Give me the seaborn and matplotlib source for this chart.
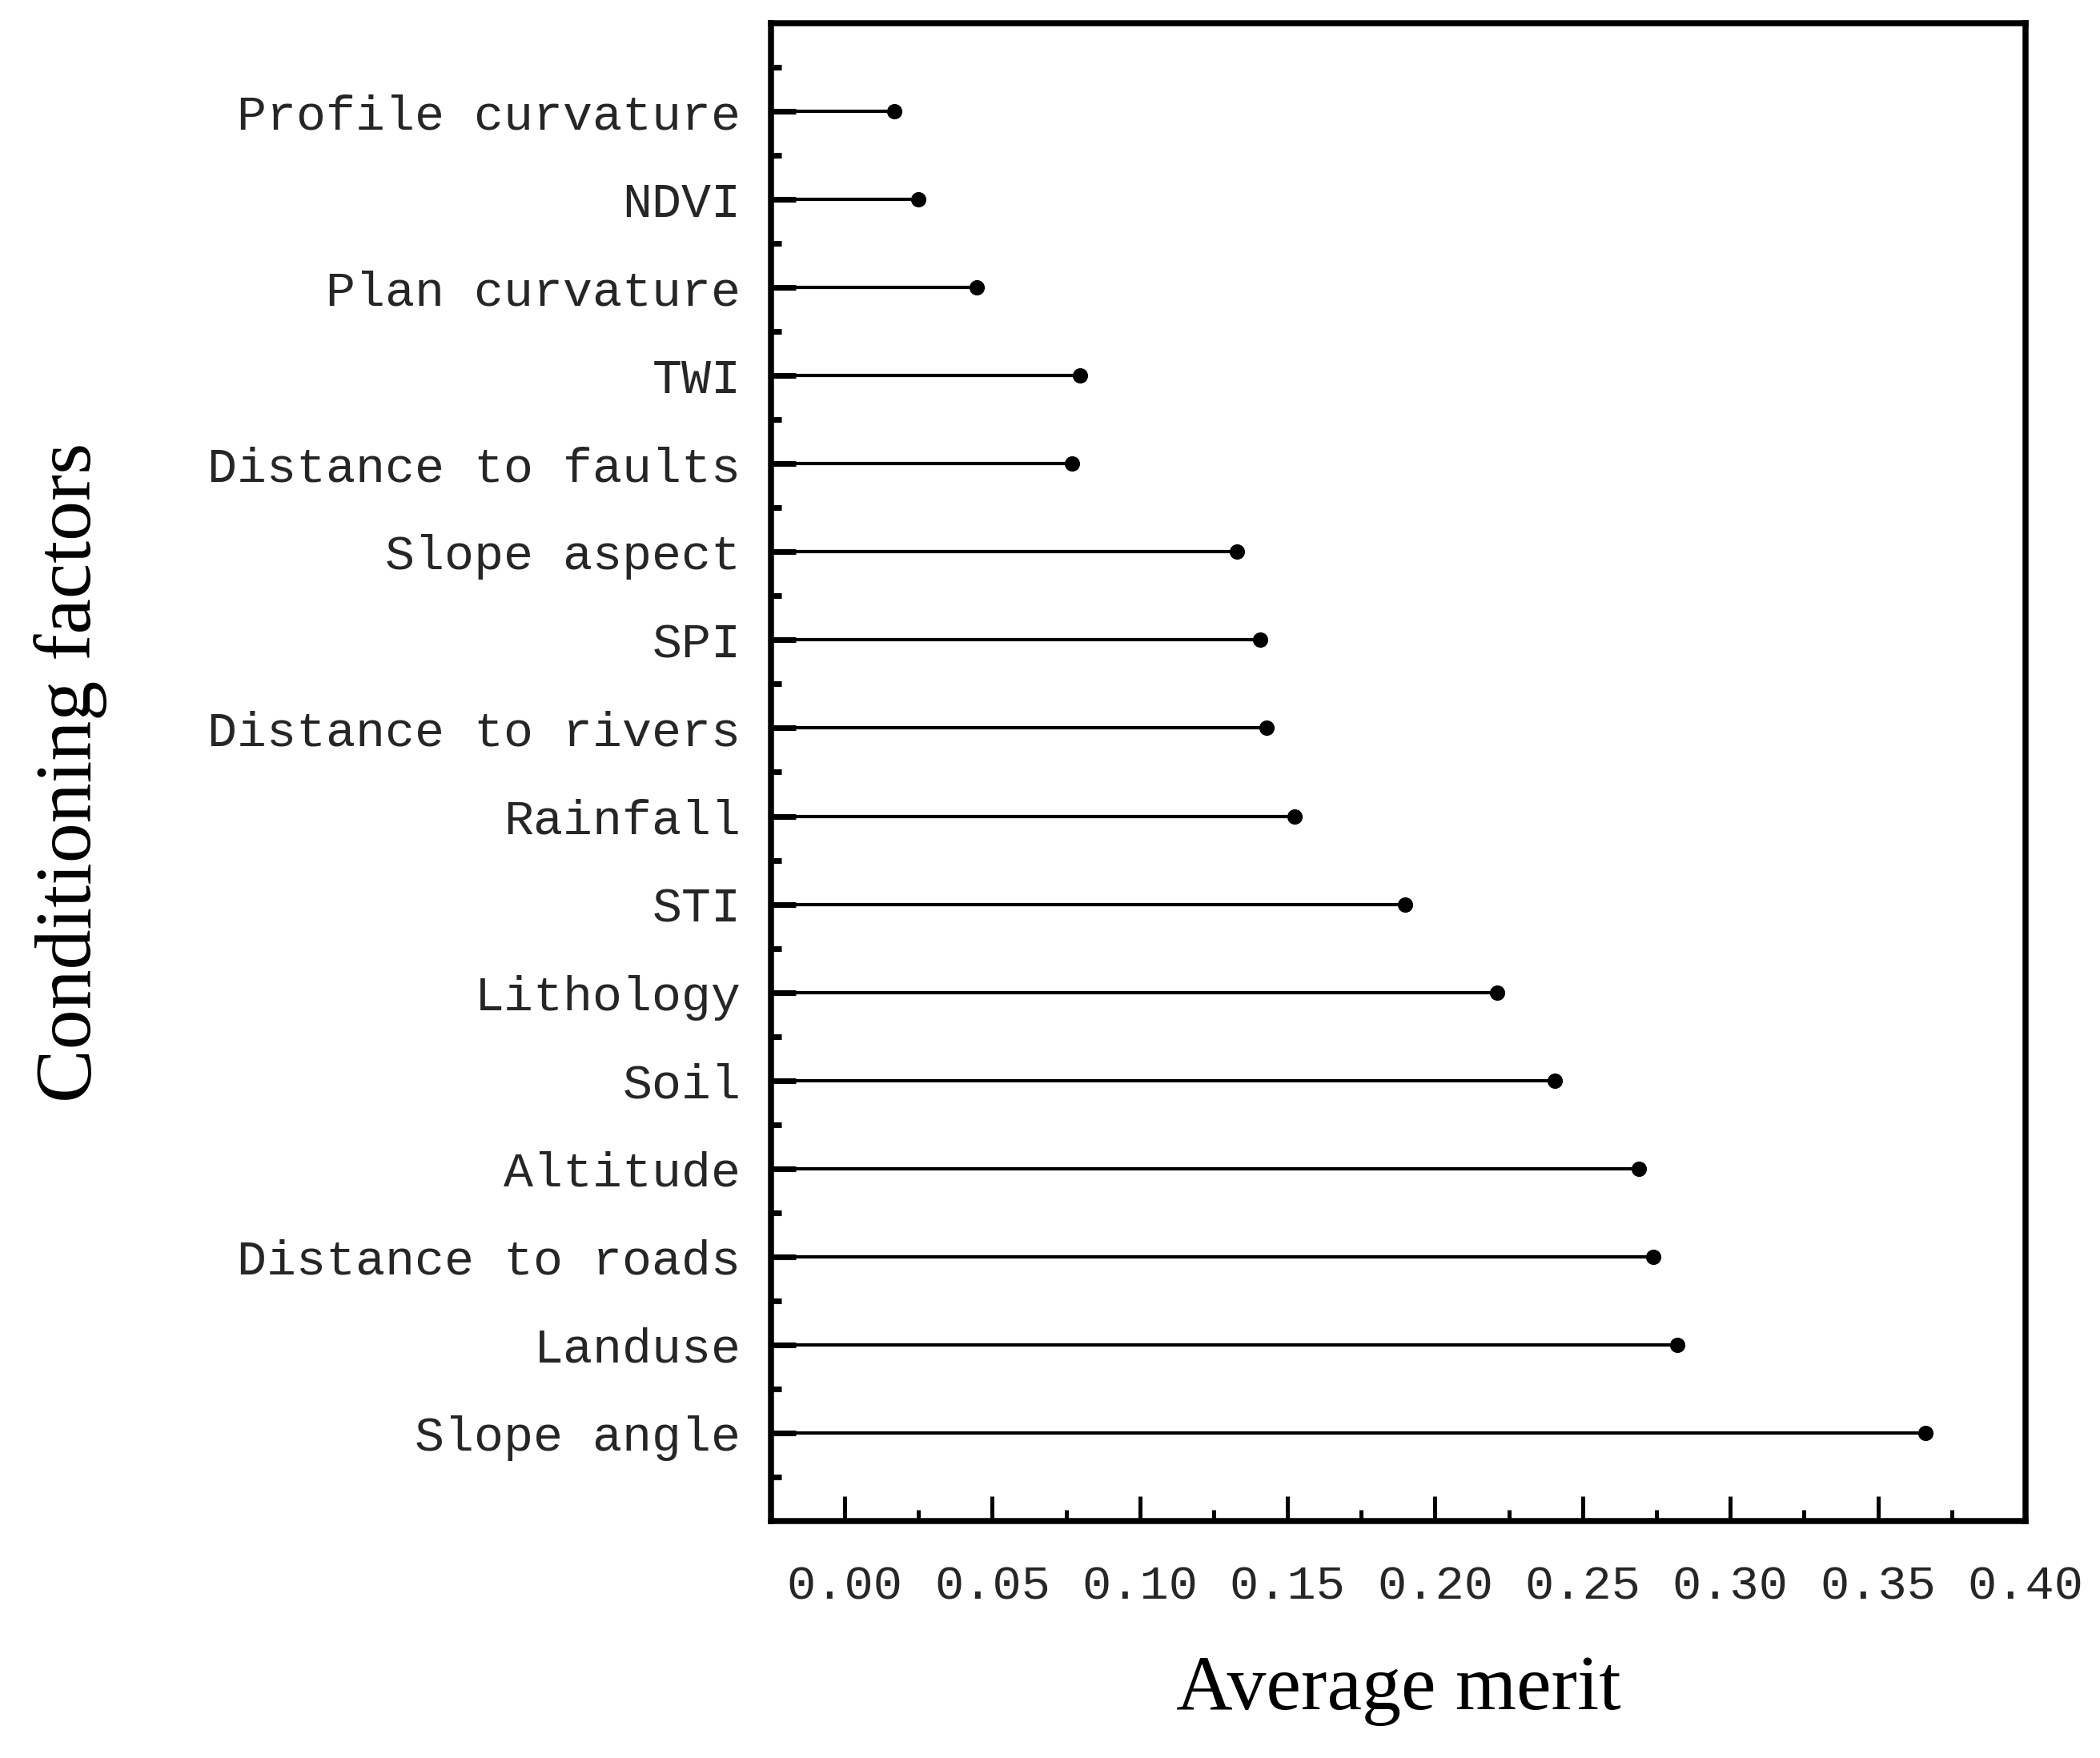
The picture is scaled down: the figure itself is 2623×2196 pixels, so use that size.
import numpy as np
import pandas as pd
import matplotlib
matplotlib.use("Agg")
import matplotlib.pyplot as plt
from matplotlib.ticker import MultipleLocator, FormatStrFormatter
import seaborn as sns

sns.set_theme(style="white")
plt.rcParams['font.family'] = ['Liberation Mono', 'DejaVu Sans Mono']

# factors from top to bottom and their average merit
factors = ["Profile curvature", "NDVI", "Plan curvature", "TWI",
           "Distance to faults", "Slope aspect", "SPI", "Distance to rivers",
           "Rainfall", "STI", "Lithology", "Soil", "Altitude",
           "Distance to roads", "Landuse", "Slope angle"]
merit = [0.0168, 0.0248, 0.0448, 0.0798, 0.0769, 0.1329, 0.1408, 0.1428,
         0.1524, 0.1899, 0.2209, 0.2405, 0.2689, 0.2740, 0.2820, 0.3661]

df = pd.DataFrame({"factor": factors, "merit": merit})

x_min, x_max = -0.025, 0.40

fig, ax = plt.subplots(figsize=(2623 / 300, 2196 / 300), dpi=300)
fig.subplots_adjust(left=0.3671, right=0.9645, top=0.9868, bottom=0.1348)

sns.stripplot(data=df, x="merit", y="factor", order=factors, jitter=False,
              color="black", size=4.6, linewidth=0, ax=ax, zorder=3)

# stems from the left spine to each point
pos = np.arange(len(factors))
ax.hlines(pos, x_min, df["merit"], color="black", linewidth=1.0, zorder=2)

ax.set_xlim(x_min, x_max)
ax.set_ylim(len(factors), -1)

ax.xaxis.set_major_locator(MultipleLocator(0.05))
ax.xaxis.set_minor_locator(MultipleLocator(0.025))
ax.xaxis.set_major_formatter(FormatStrFormatter("%.2f"))
ax.set_yticks(pos)
ax.set_yticklabels(factors)
ax.set_yticks(np.arange(-0.5, len(factors), 1), minor=True)

for s in ax.spines.values():
    s.set_visible(True)
    s.set_color("black")
    s.set_linewidth(1.8)

ax.tick_params(axis="x", which="major", direction="in", length=7.4, width=1.2,
               color="black", labelsize=14.5, pad=13, bottom=True)
ax.tick_params(axis="x", which="minor", direction="in", length=3.3, width=1.2,
               color="black", bottom=True)
ax.tick_params(axis="y", which="major", direction="in", length=7.4, width=1.7,
               color="black", labelsize=14.8, pad=9, left=True)
ax.tick_params(axis="y", which="minor", direction="in", length=3.1, width=1.7,
               color="black", left=True)

ax.set_xlabel("Average merit", family="Liberation Serif", fontsize=23.5,
              labelpad=14, color="black")
ax.set_ylabel("Conditioning factors", family="Liberation Serif", fontsize=24,
              labelpad=30, color="black")
ax.grid(False)

plt.savefig("out.png", dpi=300)
